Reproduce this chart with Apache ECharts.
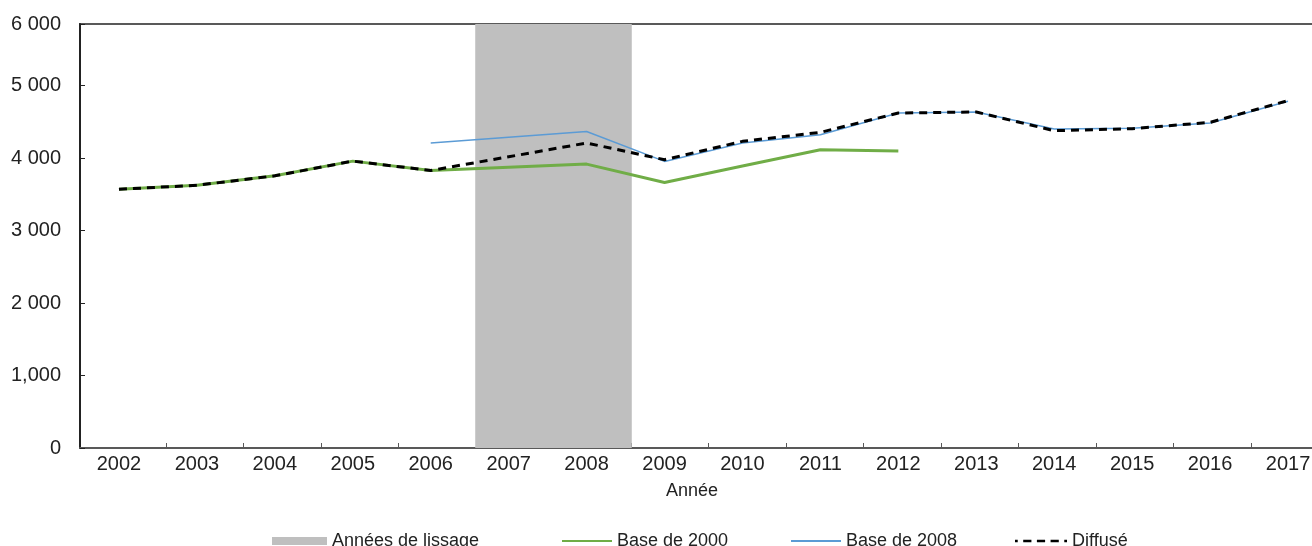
<!DOCTYPE html>
<html>
<head>
<meta charset="utf-8">
<script src="https://cdn.jsdelivr.net/npm/echarts@6/dist/echarts.min.js"></script>
<style>
html,body{margin:0;padding:0;background:#fff;}
#chart{width:1312px;height:546px;}
</style>
</head>
<body>
<div id="chart"></div>
<script>
const years = ['2002','2003','2004','2005','2006','2007','2008','2009','2010','2011','2012','2013','2014','2015','2016','2017'];
const smoothingYears = ['2007','2008'];
const base2000 = [3570,3625,3755,3958,3829,3873,3917,3662,3890,4116,4097,null,null,null,null,null];
const base2008 = [null,null,null,null,4208,4287,4366,3954,4208,4323,4622,4636,4402,4410,4484,4785];
const diffuse  = [3570,3625,3755,3958,3829,4018,4208,3978,4231,4355,4622,4636,4378,4406,4493,4793];
const yTickLabels = {0:'0',1000:'1,000',2000:'2 000',3000:'3 000',4000:'4 000',5000:'5 000'};
const yTopLabel = '6 000';
const yMax = 5850;

const FONT = '"Liberation Sans", Arial, sans-serif';
const TXT = '#222';
const smoothingData = years.map(y => smoothingYears.includes(y) ? yMax : null);

const chart = echarts.init(document.getElementById('chart'), null, {renderer:'canvas'});
const lineIcon = 'path://M0,0 H50 V2 H0 Z';
const dashIcon = 'path://M0,0 H3 V3 H0 Z M9,0 H18 V3 H9 Z M24,0 H33 V3 H24 Z M39,0 H48 V3 H39 Z M54,0 H57 V3 H54 Z';
const legendText = {color:TXT, fontSize:18, fontFamily:FONT};
const option = {
  animation:false,
  backgroundColor:'#fff',
  textStyle:{fontFamily:FONT},
  grid:[
    {left:80, top:24, width:1247, height:424, show:true, borderColor:'#595959', borderWidth:2,
     backgroundColor:'transparent', outerBoundsMode:'none', containLabel:false},
    {left:88.5, top:24, width:1240, height:424, outerBoundsMode:'none', containLabel:false}
  ],
  xAxis:[
    {type:'category', gridIndex:0, data:years, boundaryGap:true,
     axisLine:{lineStyle:{color:'#595959', width:2}},
     axisTick:{show:false},
     axisLabel:{color:TXT, fontSize:20, fontFamily:FONT, margin:6}},
    {type:'category', gridIndex:1, data:years, boundaryGap:true,
     axisLine:{show:false},
     axisTick:{show:true, inside:true, length:5, interval:(i) => i > 0, lineStyle:{color:'#595959', width:1}},
     axisLabel:{show:false}}
  ],
  yAxis:[
    {type:'value', gridIndex:0, min:0, max:yMax, interval:1000,
     axisLine:{show:true, lineStyle:{color:'#222', width:2}},
     axisTick:{show:true, inside:true, length:5, lineStyle:{color:'#222'}},
     splitLine:{show:false},
     axisLabel:{color:TXT, fontSize:20, fontFamily:FONT, margin:19,
       formatter:v => (v in yTickLabels) ? yTickLabels[v] : (v >= yMax ? yTopLabel : '')}},
    {type:'value', gridIndex:1, min:0, max:yMax, interval:1000, show:false}
  ],
  legend:[
    {data:['Années de lissage'], left:267, top:527, itemWidth:55, itemHeight:8, icon:'rect', itemGap:0,
     textStyle:legendText},
    {data:[{name:'Base de 2000', icon:lineIcon}], left:557, top:527, itemWidth:50, itemHeight:2.5,
     textStyle:legendText},
    {data:[{name:'Base de 2008', icon:lineIcon}], left:786, top:527, itemWidth:50, itemHeight:2,
     textStyle:legendText},
    {data:[{name:'Diffusé', icon:dashIcon}], left:1010, top:527, itemWidth:52, itemHeight:3,
     textStyle:legendText}
  ],
  graphic:[
    {type:'text', left:690-24, top:482, style:{text:'Année', fill:TXT, font:'18px ' + FONT}}
  ],
  series:[
    {name:'Années de lissage', type:'bar', xAxisIndex:1, yAxisIndex:1, data:smoothingData,
     barWidth:'102%', barCategoryGap:0, barGap:'-100%',
     itemStyle:{color:'#BFBFBF', borderWidth:0}, z:1},
    {name:'Base de 2000', type:'line', data:base2000, symbol:'none', z:2,
     lineStyle:{color:'#70AD47', width:3}, itemStyle:{color:'#70AD47'}},
    {name:'Base de 2008', type:'line', data:base2008, symbol:'none', z:3,
     lineStyle:{color:'#5B9BD5', width:1.5}, itemStyle:{color:'#5B9BD5'}},
    {name:'Diffusé', type:'line', data:diffuse, symbol:'none', z:4,
     lineStyle:{color:'#000', width:3, type:[8,6]}, itemStyle:{color:'#000'}}
  ]
};
chart.setOption(option);
</script>
</body>
</html>
